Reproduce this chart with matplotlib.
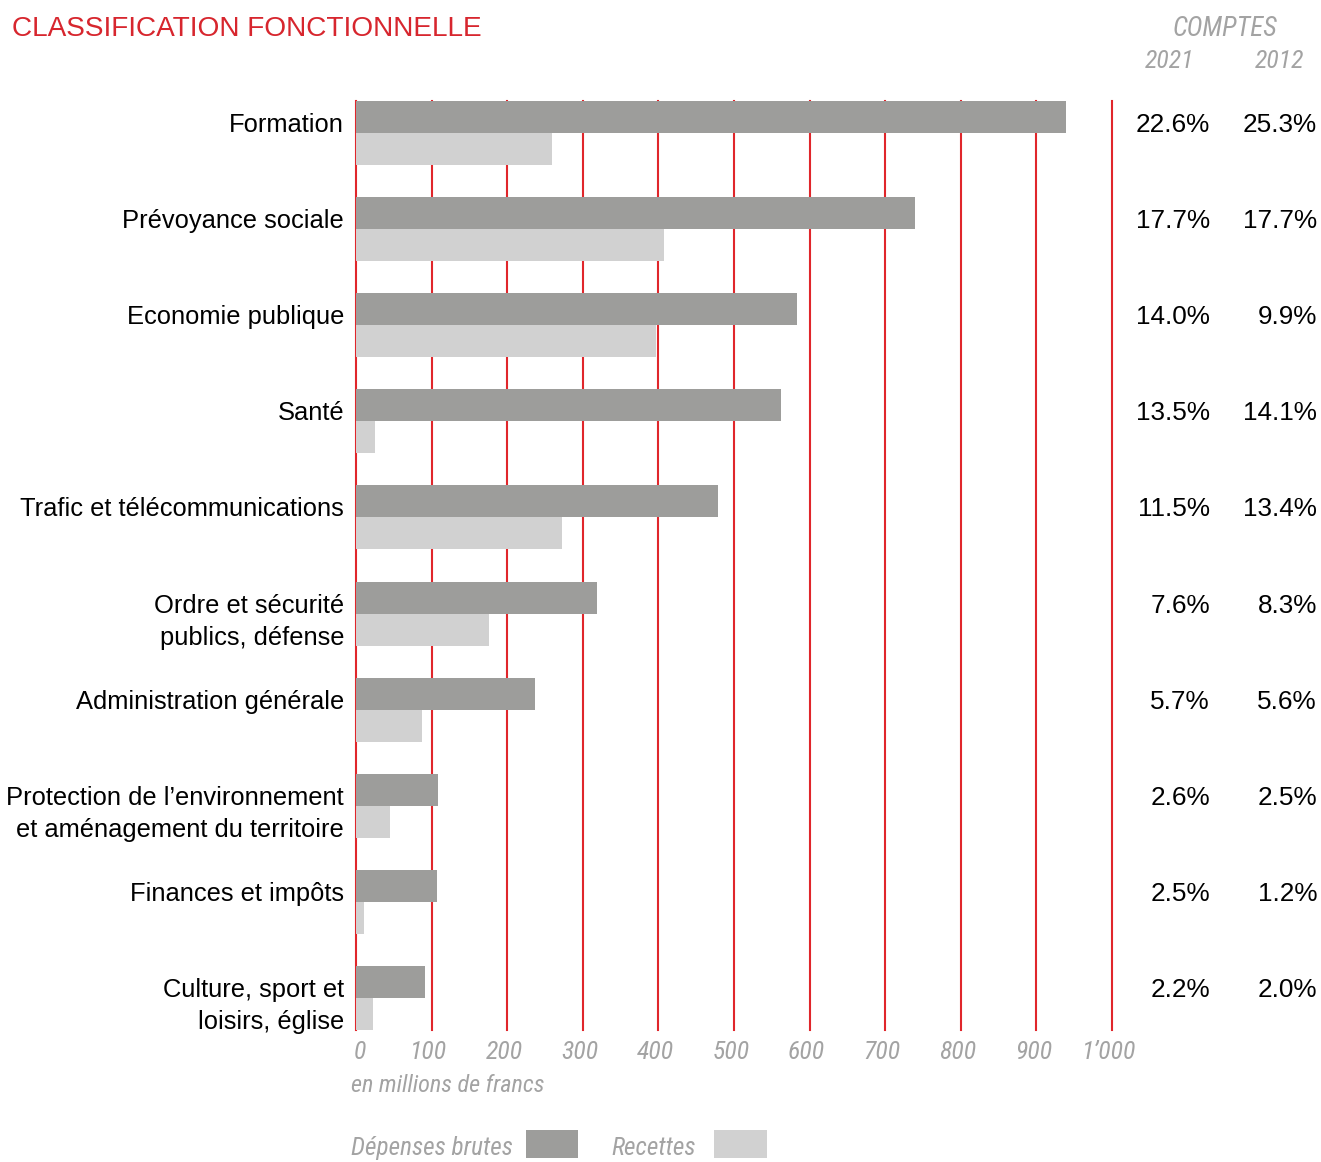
import matplotlib
matplotlib.use("Agg")
import matplotlib.pyplot as plt
from matplotlib import font_manager
from matplotlib.transforms import blended_transform_factory
from matplotlib.patches import Rectangle

categories = ["Formation", "Prévoyance sociale", "Economie publique", "Santé",
              "Trafic et télécommunications", "Ordre et sécurité\npublics, défense",
              "Administration générale",
              "Protection de l’environnement\net aménagement du territoire",
              "Finances et impôts", "Culture, sport et\nloisirs, église"]
depenses = [939, 739, 583, 562, 479, 319, 237, 108, 107, 91]
recettes = [259, 407, 397, 25, 272, 176, 87, 45, 11, 22]
pct_2021 = ["22.6%", "17.7%", "14.0%", "13.5%", "11.5%", "7.6%", "5.7%", "2.6%", "2.5%", "2.2%"]
pct_2012 = ["25.3%", "17.7%", "9.9%", "14.1%", "13.4%", "8.3%", "5.6%", "2.5%", "1.2%", "2.0%"]
xticks = [0, 100, 200, 300, 400, 500, 600, 700, 800, 900, 1000]
xticklabels = ["0", "100", "200", "300", "400", "500", "600", "700", "800", "900", "1’000"]

names = {f.name for f in font_manager.fontManager.ttflist}
cond = "Liberation Sans"
for cand in ["Roboto Condensed", "Liberation Sans Narrow", "Open Sans Condensed"]:
    if cand in names:
        cond = cand
        break
main = "Liberation Sans"
CW = "normal"

W, H = 1321, 1162
fig = plt.figure(figsize=(W / 100, H / 100), dpi=100)
ax = fig.add_axes([356 / W, (H - 1030) / H, (1112 - 356) / W, (1030 - 101) / H])

DEP = "#9d9d9b"
REC = "#d1d1d1"
RED = "#e0262b"
GRAY = "#a3a3a3"
bh = 1 / 3
n = len(categories)
ys = list(range(n))
ax.barh([y - bh / 2 for y in ys], depenses, height=bh, color=DEP, zorder=3)
ax.barh([y + bh / 2 for y in ys], recettes, height=bh, color=REC, zorder=3)
for x in xticks:
    ax.axvline(x, color=RED, lw=1.5, zorder=1, clip_on=False)
ax.set_xlim(0, 1000)
ax.set_ylim(n - 1 + bh, -bh)
for s in ax.spines.values():
    s.set_visible(False)
ax.set_yticks([])
ax.set_xticks([])

# x tick labels
for x, lab in zip(xticks, xticklabels):
    ax.text(x - 3 if x == 0 else x - 4, n - 1 + bh + 0.23, lab, transform=ax.transData,
            ha="left" if x == 0 else "center", va="center", fontsize=18.5, family=cond,
            weight=CW, style="italic", color=GRAY)

line_gap = 32 / 96
trY = blended_transform_factory(fig.transFigure, ax.transData)
FS = 18.4
for i, cat in enumerate(categories):
    lines = cat.split("\n")
    y0 = i - 8 / 96
    for k, ln in enumerate(lines):
        ax.text(344 / W, y0 + k * line_gap, ln, transform=trY, ha="right", va="center",
                fontsize=FS, family=main, color="black")
    ax.text(1210 / W, y0, pct_2021[i], transform=trY, ha="right", va="center",
            fontsize=18.8, family=main, color="black")
    ax.text(1317 / W, y0, pct_2012[i], transform=trY, ha="right", va="center",
            fontsize=18.8, family=main, color="black")

def fy(py):
    return (H - py) / H

fig.text(12 / W, fy(29), "CLASSIFICATION FONCTIONNELLE", ha="left", va="center",
         fontsize=20.2, family=main, color="#d7262e")
fig.text(1225 / W, fy(29), "COMPTES", ha="center", va="center", fontsize=19.4,
         family=cond, weight=CW, style="italic", color=GRAY)
fig.text(1170 / W, fy(61), "2021", ha="center", va="center", fontsize=18.5,
         family=cond, weight=CW, style="italic", color=GRAY)
fig.text(1280 / W, fy(61), "2012", ha="center", va="center", fontsize=18.5,
         family=cond, weight=CW, style="italic", color=GRAY)
fig.text(351 / W, fy(1086), "en millions de francs", ha="left", va="center", fontsize=17.5,
         family=cond, weight=CW, style="italic", color=GRAY)
fig.text(351 / W, fy(1148), "Dépenses brutes", ha="left", va="center", fontsize=18.2,
         family=cond, weight=CW, style="italic", color=GRAY)
fig.text(611 / W, fy(1148), "Recettes", ha="left", va="center", fontsize=18.2,
         family=cond, weight=CW, style="italic", color=GRAY)
fig.patches.append(Rectangle((526 / W, fy(1158)), 52 / W, 28 / H, transform=fig.transFigure,
                             facecolor=DEP, edgecolor="none"))
fig.patches.append(Rectangle((714 / W, fy(1158)), 53 / W, 28 / H, transform=fig.transFigure,
                             facecolor=REC, edgecolor="none"))

fig.savefig("out.png", dpi=100, facecolor="white")
